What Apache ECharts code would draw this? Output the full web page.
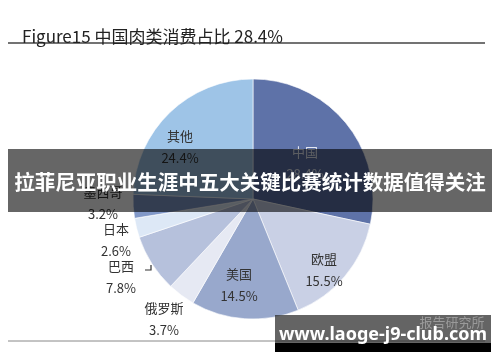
<!DOCTYPE html>
<html><head><meta charset="utf-8">
<script src="https://cdn.jsdelivr.net/npm/echarts@6/dist/echarts.min.js"></script>
<style>html,body{margin:0;padding:0;background:#fff;}#c{width:500px;height:362px;}</style>
</head><body><div id="c"></div>
<script>
const categories = ['中国','欧盟','美国','俄罗斯','巴西','日本','墨西哥','其他'];
const shares = [28.4, 15.5, 14.5, 3.7, 7.8, 2.6, 3.2, 24.4];
const colors = ['#5e72a8','#c9d0e5','#98a8cc','#e6e9f3','#b6c1dc','#dde8f6','#8198c8','#9ec4e7'];
const labelColors = ['#e4e8f2','#333','#333','#333','#333','#333','#333','#333'];
const labelPos = [[305,163],[324,270],[239,285],[164,319],[121,277],[116,240],[103,203],[180,147]];
const titleText = 'Figure15 中国肉类消费占比 28.4%';
const bannerText = '拉菲尼亚职业生涯中五大关键比赛统计数据值得关注';
const siteText = 'www.laoge-j9-club.com';

const chart = echarts.init(document.getElementById('c'));
chart.setOption({
  backgroundColor: '#fff',
  animation: false,
  title: {
    text: titleText, left: 17, top: 23,
    textStyle: {fontFamily: 'Noto Sans CJK SC', fontSize: 17, fontWeight: 'normal', color: '#222'}
  },
  series: [{
    type: 'pie',
    center: [253, 199],
    radius: 120,
    startAngle: 90,
    clockwise: true,
    itemStyle: {borderColor: '#fff', borderWidth: 0.6},
    label: {
      show: true, position: 'inside',
      formatter: '{b}\n{c}%',
      fontFamily: 'Noto Sans CJK SC', fontSize: 13, lineHeight: 22, color: '#333'
    },
    labelLine: {show: false},
    labelLayout: function (p) {
      const q = labelPos[p.dataIndex];
      return {x: q[0], y: q[1], align: 'center', verticalAlign: 'middle'};
    },
    data: categories.map((n, i) => ({
      name: n, value: shares[i],
      itemStyle: {color: colors[i]},
      label: {color: labelColors[i]}
    }))
  }],
  graphic: [
    {type: 'line', shape: {x1: 8, y1: 43, x2: 485, y2: 43}, style: {stroke: '#444', lineWidth: 1.5}},
    {type: 'polyline', shape: {points: [[145,270],[151,270],[151,265]]}, style: {stroke: '#333', lineWidth: 1.2, fill: null}},
    {type: 'line', shape: {x1: 8, y1: 341, x2: 485, y2: 341}, style: {stroke: '#888', lineWidth: 1}},
    {type: 'rect', z: 100, shape: {x: 8, y: 149, width: 484, height: 63}, style: {fill: 'rgba(0,0,0,0.6)'}},
    {type: 'text', z: 101, x: 250, y: 182, style: {text: bannerText, fill: '#fff', font: 'bold 20.5px "Noto Sans CJK SC"', align: 'center', verticalAlign: 'middle'}},
    {type: 'rect', z: 100, shape: {x: 275, y: 315, width: 216, height: 28}, style: {fill: 'rgba(40,40,40,0.72)'}},
    {type: 'rect', z: 100, shape: {x: 275, y: 343, width: 216, height: 9}, style: {fill: '#000'}},
    {type: 'text', z: 101, x: 452, y: 322, style: {text: '报告研究所', fill: '#9a9a9a', font: '13px "Noto Sans CJK SC"', align: 'center', verticalAlign: 'middle'}},
    {type: 'text', z: 102, x: 383, y: 335, style: {text: siteText, fill: '#fff', font: 'bold 18px "Noto Sans"', align: 'center', verticalAlign: 'middle'}}
  ]
});
</script></body></html>
